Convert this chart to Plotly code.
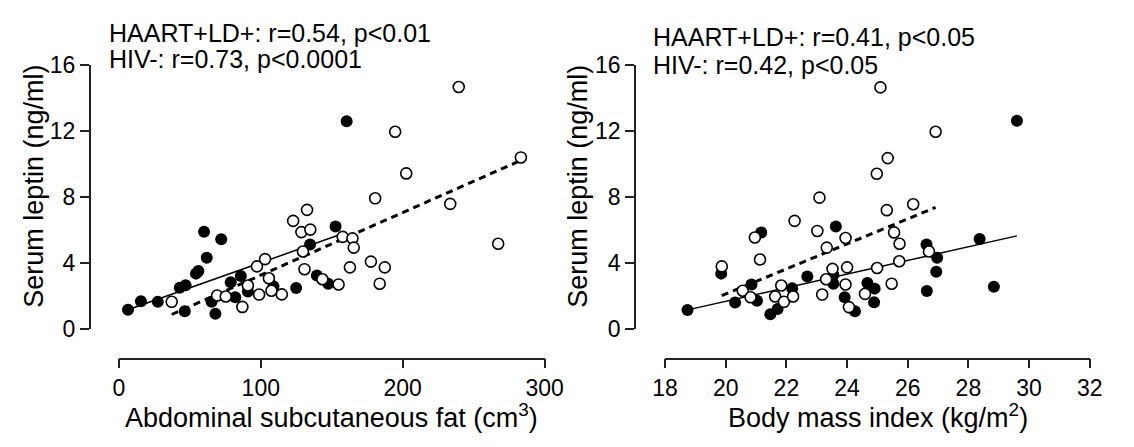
import plotly.graph_objects as go

W, H = 1134, 447

# ---------------- data ----------------
# Left panel: abdominal subcutaneous fat (cm^3) vs serum leptin (ng/ml)
haart_fat_x = [6.4, 15.5, 27.4, 60.0, 72.1, 61.9, 54.3, 56.0, 42.9, 47.0, 46.4, 65.3,
               68.0, 78.8, 85.9, 82.0, 90.9, 108.9, 124.9, 134.7, 152.7, 139.5, 147.5, 160.5]
haart_fat_y = [1.14, 1.66, 1.62, 5.87, 5.41, 4.29, 3.33, 3.49, 2.48, 2.63, 1.05, 1.62,
               0.90, 2.80, 3.18, 1.90, 2.25, 2.57, 2.46, 5.10, 6.19, 3.22, 2.72, 12.57]

hivneg_fat_x = [37.2, 69.2, 75.3, 87.0, 90.9, 98.8, 97.3, 103.0, 105.7, 107.5, 114.8,
                122.8, 132.6, 128.6, 134.9, 129.7, 130.8, 143.4, 154.8, 157.7, 164.6,
                165.5, 162.8, 239.5, 194.7, 202.5, 180.6, 283.3, 233.5, 267.3, 177.6,
                187.4, 183.8]
hivneg_fat_y = [1.62, 2.00, 1.94, 1.31, 2.61, 2.06, 3.77, 4.21, 3.05, 2.29, 2.07,
                6.53, 7.20, 5.85, 6.00, 4.67, 3.60, 2.99, 2.67, 5.56, 5.47,
                4.91, 3.71, 14.65, 11.94, 9.41, 7.90, 10.38, 7.56, 5.14, 4.06,
                3.71, 2.72]

# Right panel: body mass index (kg/m^2) vs serum leptin (ng/ml)
haart_bmi_x = [18.74, 19.85, 21.17, 20.31, 20.85, 21.03, 21.47, 21.71, 22.19, 22.69,
               23.63, 23.55, 23.55, 23.92, 24.26, 24.67, 24.91, 24.89, 26.62, 26.97,
               26.94, 26.63, 28.37, 28.84, 29.60]
haart_bmi_y = [1.13, 3.33, 5.83, 1.58, 2.67, 1.68, 0.86, 1.18, 2.44, 3.16,
               6.19, 3.24, 2.72, 1.89, 1.05, 2.76, 2.42, 1.60, 5.10, 4.29,
               3.45, 2.27, 5.43, 2.53, 12.60]

hivneg_bmi_x = [19.87, 20.96, 21.13, 20.56, 20.82, 21.63, 21.83, 21.92, 22.22, 22.27,
                23.09, 23.02, 23.18, 23.33, 23.31, 23.52, 23.95, 24.00, 23.95, 24.06,
                24.59, 25.34, 24.98, 25.31, 26.18, 25.55, 25.73, 24.99, 25.72, 26.70,
                25.47, 25.10, 26.92]
hivneg_bmi_y = [3.77, 5.52, 4.19, 2.29, 1.90, 1.94, 2.61, 1.62, 1.94, 6.53,
                7.94, 5.92, 2.06, 4.91, 2.99, 3.62, 5.49, 3.71, 2.67, 1.30,
                2.10, 10.34, 9.39, 7.18, 7.54, 5.83, 5.14, 3.67, 4.08, 4.67,
                2.72, 14.63, 11.94]

# regression line end points
haart_fat_fit_x = [6.4, 160.5]
haart_fat_fit_y = [1.14, 5.84]
hivneg_fat_fit_x = [37.2, 283.3]
hivneg_fat_fit_y = [0.85, 10.2]
haart_bmi_fit_x = [18.74, 29.6]
haart_bmi_fit_y = [1.13, 5.62]
hivneg_bmi_fit_x = [19.87, 26.92]
hivneg_bmi_fit_y = [2.0, 7.35]

fat_ticks = [0, 100, 200, 300]
bmi_ticks = [18, 20, 22, 24, 26, 28, 30, 32]
leptin_ticks = [0, 4, 8, 12, 16]

left_stats = ["HAART+LD+: r=0.54, p<0.01", "HIV-: r=0.73, p<0.0001"]
right_stats = ["HAART+LD+: r=0.41, p<0.05", "HIV-: r=0.42, p<0.05"]

# ---------------- figure ----------------
FONT = "Liberation Sans, Arial, Helvetica, sans-serif"


def fx(px):
    return px / W


def fy(py):
    return 1 - py / H


fig = go.Figure()

panels = [
    ("x", "y", haart_fat_x, haart_fat_y, hivneg_fat_x, hivneg_fat_y,
     haart_fat_fit_x, haart_fat_fit_y, hivneg_fat_fit_x, hivneg_fat_fit_y),
    ("x2", "y2", haart_bmi_x, haart_bmi_y, hivneg_bmi_x, hivneg_bmi_y,
     haart_bmi_fit_x, haart_bmi_fit_y, hivneg_bmi_fit_x, hivneg_bmi_fit_y),
]

for xa, ya, hx, hy, nx, ny, hfx, hfy, nfx, nfy in panels:
    fig.add_trace(go.Scatter(x=hfx, y=hfy, xaxis=xa, yaxis=ya, mode="lines",
                             line=dict(color="black", width=1.5),
                             showlegend=False, cliponaxis=False, hoverinfo="skip"))
    fig.add_trace(go.Scatter(x=nfx, y=nfy, xaxis=xa, yaxis=ya, mode="lines",
                             line=dict(color="black", width=3, dash="7px,5px"),
                             showlegend=False, cliponaxis=False, hoverinfo="skip"))
    fig.add_trace(go.Scatter(x=hx, y=hy, xaxis=xa, yaxis=ya, mode="markers",
                             marker=dict(size=12, color="black", line=dict(width=0)),
                             showlegend=False, cliponaxis=False, name="HAART+LD+"))
    fig.add_trace(go.Scatter(x=nx, y=ny, xaxis=xa, yaxis=ya, mode="markers",
                             marker=dict(size=11, color="white",
                                         line=dict(width=1.6, color="black")),
                             showlegend=False, cliponaxis=False, name="HIV-"))

axis_common = dict(showgrid=False, zeroline=False, showline=True, linecolor="#222222",
                   linewidth=1.6, ticks="outside", ticklen=9, tickwidth=1.5,
                   tickcolor="#222222", tickfont=dict(family=FONT, size=23, color="black"),
                   fixedrange=True)

x_pos = fy(367)
ydom = [fy(335), fy(55)]

fig.update_layout(
    width=W, height=H,
    margin=dict(l=0, r=0, t=0, b=0),
    paper_bgcolor="white", plot_bgcolor="white",
    font=dict(family=FONT, color="black"),
    xaxis=dict(domain=[fx(109), fx(547)], range=[0, 300], tickvals=fat_ticks,
               anchor="free", position=x_pos, **axis_common),
    yaxis=dict(domain=ydom, range=[0, 16], tickvals=leptin_ticks,
               anchor="free", position=fx(79), **axis_common),
    xaxis2=dict(domain=[fx(671), fx(1108)], range=[18, 32], tickvals=bmi_ticks,
                anchor="free", position=x_pos, **axis_common),
    yaxis2=dict(domain=ydom, range=[0, 16], tickvals=leptin_ticks,
                anchor="free", position=fx(640), **axis_common),
)

ann = []
# statistics text
for (x0, ys, lines) in [(97, (21, 49), left_stats), (657, (26, 55), right_stats)]:
    for yy, t in zip(ys, lines):
        ann.append(dict(text=t, x=fx(x0), y=fy(yy), xref="paper", yref="paper",
                        xanchor="left", yanchor="middle", showarrow=False,
                        font=dict(family=FONT, size=25, color="black")))
# axis titles
ann.append(dict(text="Abdominal subcutaneous fat (cm<sup>3</sup>)", x=fx(328), y=fy(428),
                xref="paper", yref="paper", xanchor="center", yanchor="middle",
                showarrow=False, font=dict(family=FONT, size=27, color="black")))
ann.append(dict(text="Body mass index (kg/m<sup>2</sup>)", x=fx(890), y=fy(428),
                xref="paper", yref="paper", xanchor="center", yanchor="middle",
                showarrow=False, font=dict(family=FONT, size=27, color="black")))
for xc in (22, 582):
    ann.append(dict(text="Serum leptin (ng/ml)", x=fx(xc), y=fy(184), textangle=-90,
                    xref="paper", yref="paper", xanchor="center", yanchor="middle",
                    showarrow=False, font=dict(family=FONT, size=27, color="black")))
fig.update_layout(annotations=ann)

fig.write_html("out.html")
